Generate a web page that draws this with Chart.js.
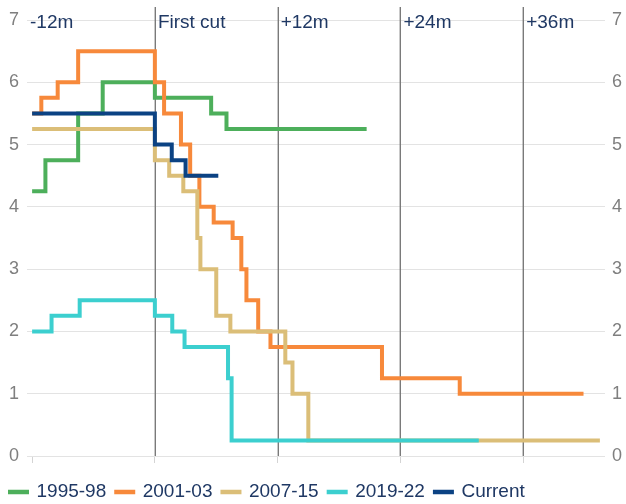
<!DOCTYPE html>
<html>
<head>
<meta charset="utf-8">
<script src="https://cdn.jsdelivr.net/npm/chart.js@4.4.1/dist/chart.umd.min.js"></script>
<style>
  html, body { margin: 0; padding: 0; background: #ffffff; }
  #wrap { width: 626px; height: 504px; }
</style>
</head>
<body>
<div id="wrap"><canvas id="c" width="626" height="504"></canvas></div>
<script>
// ---- Data (months relative to first cut, policy rate %) ----
const seriesNames = ['1995-98', '2001-03', '2007-15', '2019-22', 'Current'];

const months1995 = [-12, -10.7, -7.5, -5.1, 0, 5.5, 7.0, 20.7];
const rates1995  = [4.25, 4.75, 5.5, 6.0, 5.75, 5.5, 5.25, 5.25];

const months2001 = [-12, -11.1, -9.5, -7.5, 0, 0.9, 2.55, 3.45, 4.35, 5.75, 7.6, 8.45, 8.95, 10.1, 11.3, 22.2, 29.8, 41.9];
const rates2001  = [5.5, 5.75, 6.0, 6.5, 6.0, 5.5, 5.0, 4.5, 4.0, 3.75, 3.5, 3.0, 2.5, 2.0, 1.75, 1.25, 1.0, 1.0];

const months2007 = [-12, 0, 1.4, 2.78, 4.15, 4.45, 6.0, 7.38, 12.75, 13.45, 15.0, 43.5];
const rates2007  = [5.25, 4.75, 4.5, 4.25, 3.5, 3.0, 2.25, 2.0, 1.5, 1.0, 0.25, 0.25];

const months2019 = [-12, -10.1, -7.35, 0, 1.7, 2.9, 7.15, 7.5, 31.66];
const rates2019  = [2.0, 2.25, 2.5, 2.25, 2.0, 1.75, 1.25, 0.25, 0.25];

const monthsCurrent = [-12, 0, 1.65, 3.0, 6.2];
const ratesCurrent  = [5.5, 5.0, 4.75, 4.5, 4.5];

const yTicks = [0, 1, 2, 3, 4, 5, 6, 7];
const markerMonths = [-12, 0, 12, 24, 36];
const markerLabels = ['-12m', 'First cut', '+12m', '+24m', '+36m'];

// ---- Styling ----
const colors = ['#4DAF5B', '#F7893B', '#DBBE78', '#3CCFCF', '#0B4283'];
const FONT = '"Liberation Sans", Arial, sans-serif';
const NAVY_TEXT = '#1F3864';

function pts(ms, rs) { return ms.map((m, i) => ({ x: m, y: rs[i] })); }

const allMonths = [months1995, months2001, months2007, months2019, monthsCurrent];
const allRates  = [rates1995, rates2001, rates2007, rates2019, ratesCurrent];
const drawOrder = [5, 4, 3, 2, 1];

const datasets = seriesNames.map((name, i) => ({
  label: name,
  data: pts(allMonths[i], allRates[i]),
  borderColor: colors[i],
  backgroundColor: colors[i],
  borderWidth: 4,
  pointRadius: 0,
  pointHoverRadius: 0,
  stepped: 'before',
  fill: false,
  order: drawOrder[i]
}));

const markerPlugin = {
  id: 'markers',
  beforeDatasetsDraw(chart) {
    const { ctx, chartArea, scales } = chart;
    const xs = scales.x;
    ctx.save();
    ctx.strokeStyle = '#7A7A7A';
    ctx.lineWidth = 1.4;
    markerMonths.forEach((m) => {
      if (m === markerMonths[0]) return;
      const x = Math.round(xs.getPixelForValue(m)) + 0.3;
      ctx.beginPath();
      ctx.moveTo(x, 7);
      ctx.lineTo(x, chartArea.bottom);
      ctx.stroke();
    });
    ctx.fillStyle = NAVY_TEXT;
    ctx.font = '19px ' + FONT;
    ctx.textAlign = 'left';
    ctx.textBaseline = 'alphabetic';
    markerLabels.forEach((lab, i) => {
      const base = i === 0 ? chartArea.left : xs.getPixelForValue(markerMonths[i]);
      ctx.fillText(lab, base + 3, 28);
    });
    ctx.restore();
  }
};

new Chart(document.getElementById('c'), {
  type: 'line',
  data: { datasets },
  options: {
    responsive: false,
    devicePixelRatio: 1,
    animation: false,
    events: [],
    layout: { padding: { top: 20, left: 0, right: 0, bottom: -7.5 } },
    plugins: {
      legend: {
        position: 'bottom',
        align: 'start',
        labels: {
          font: { family: FONT, size: 19 },
          color: NAVY_TEXT,
          boxWidth: 17,
          boxHeight: 0.5,
          padding: 10,
          sort: (a, b) => a.datasetIndex - b.datasetIndex
        }
      },
      tooltip: { enabled: false }
    },
    scales: {
      x: {
        type: 'linear',
        min: -12.5,
        max: 44,
        afterBuildTicks: (s) => { s.ticks = markerMonths.map(v => ({ value: v })); },
        afterFit: (s) => { s.height = 16.5; },
        ticks: { display: false },
        grid: { drawOnChartArea: false, drawTicks: true, tickLength: 7, color: '#D4D4D4', lineWidth: 1 },
        border: { display: false }
      },
      y: {
        position: 'left',
        min: 0,
        max: 7,
        afterBuildTicks: (s) => { s.ticks = yTicks.map(v => ({ value: v })); },
        afterFit: (s) => { s.width = 27; },
        ticks: { font: { family: FONT, size: 18 }, color: '#7F7F7F', padding: 8 },
        grid: { color: '#E3E3E3', lineWidth: 1, drawTicks: false },
        border: { display: false }
      },
      y2: {
        position: 'right',
        min: 0,
        max: 7,
        afterBuildTicks: (s) => { s.ticks = yTicks.map(v => ({ value: v })); },
        afterFit: (s) => { s.width = 21; },
        ticks: { font: { family: FONT, size: 18 }, color: '#7F7F7F', padding: 7 },
        grid: { display: false, drawTicks: false },
        border: { display: false }
      }
    }
  },
  plugins: [markerPlugin]
});
</script>
</body>
</html>
